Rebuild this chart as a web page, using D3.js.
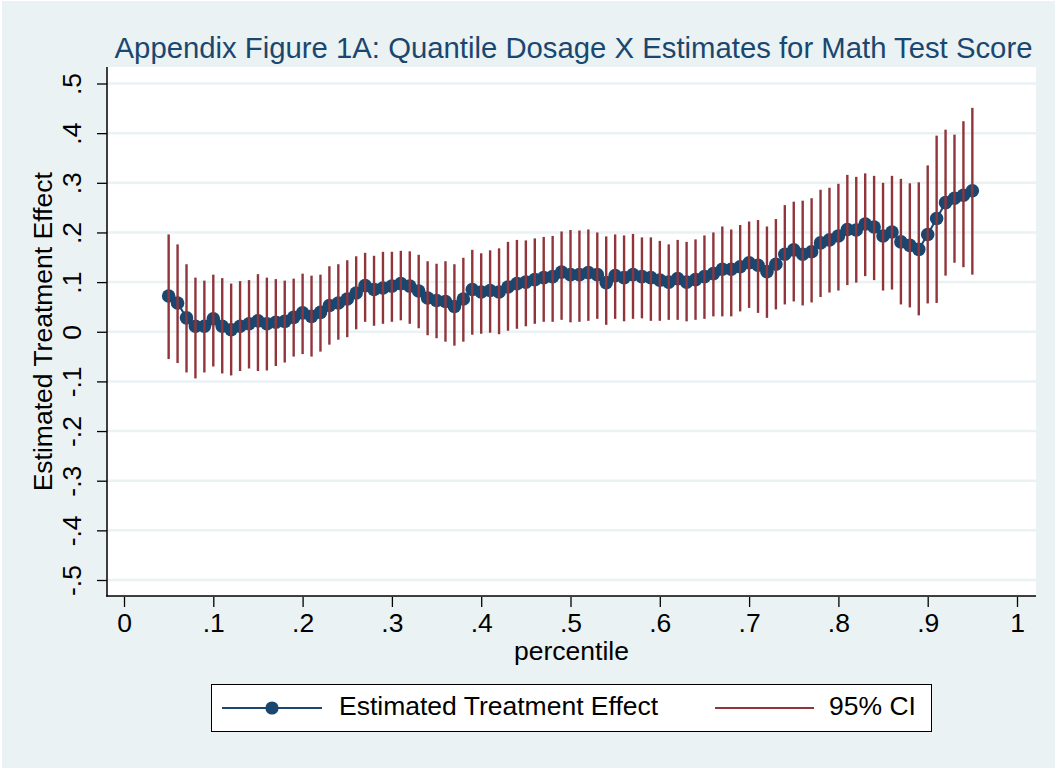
<!DOCTYPE html>
<html>
<head>
<meta charset="utf-8">
<script src="https://cdn.jsdelivr.net/npm/d3@7/dist/d3.min.js"></script>
<style>
  html, body { margin: 0; padding: 0; background: #ffffff; }
  svg { display: block; }
  text { font-family: "Liberation Sans", Arial, sans-serif; }
</style>
</head>
<body>
<svg id="chart" width="1055" height="768"></svg>
<script>
// ---------- DATA ----------
const percentile = [0.05,0.06,0.07,0.08,0.09,0.10,0.11,0.12,0.13,0.14,0.15,0.16,0.17,0.18,0.19,0.20,
  0.21,0.22,0.23,0.24,0.25,0.26,0.27,0.28,0.29,0.30,0.31,0.32,0.33,0.34,0.35,0.36,0.37,0.38,0.39,0.40,
  0.41,0.42,0.43,0.44,0.45,0.46,0.47,0.48,0.49,0.50,0.51,0.52,0.53,0.54,0.55,0.56,0.57,0.58,0.59,0.60,
  0.61,0.62,0.63,0.64,0.65,0.66,0.67,0.68,0.69,0.70,0.71,0.72,0.73,0.74,0.75,0.76,0.77,0.78,0.79,0.80,
  0.81,0.82,0.83,0.84,0.85,0.86,0.87,0.88,0.89,0.90,0.91,0.92,0.93,0.94,0.95];

const estimate = [0.072,0.058,0.028,0.011,0.011,0.026,0.011,0.004,0.011,0.016,0.022,0.016,0.019,0.021,0.029,0.038,
  0.031,0.039,0.053,0.058,0.066,0.078,0.093,0.085,0.088,0.092,0.097,0.092,0.082,0.068,0.063,0.061,0.051,0.066,0.085,0.080,
  0.083,0.080,0.090,0.097,0.100,0.105,0.109,0.111,0.120,0.115,0.115,0.119,0.115,0.099,0.113,0.109,0.115,0.111,0.109,0.104,
  0.100,0.107,0.100,0.105,0.111,0.117,0.126,0.126,0.131,0.139,0.134,0.121,0.136,0.156,0.165,0.156,0.161,0.179,0.185,0.193,
  0.206,0.205,0.217,0.211,0.193,0.201,0.181,0.174,0.166,0.196,0.228,0.260,0.269,0.275,0.284];

const ciLow = [-0.055,-0.063,-0.082,-0.094,-0.082,-0.070,-0.084,-0.088,-0.079,-0.074,-0.079,-0.078,-0.069,-0.062,-0.050,-0.045,
  -0.050,-0.040,-0.026,-0.016,-0.011,0.005,0.020,0.012,0.016,0.020,0.023,0.016,0.007,-0.007,-0.013,-0.020,-0.028,-0.020,-0.006,-0.004,
  -0.002,-0.005,0.002,0.006,0.011,0.016,0.020,0.020,0.024,0.019,0.020,0.022,0.026,0.014,0.026,0.021,0.026,0.027,0.022,0.022,
  0.024,0.024,0.021,0.024,0.026,0.031,0.031,0.031,0.041,0.048,0.038,0.028,0.045,0.055,0.061,0.053,0.059,0.070,0.079,0.083,
  0.094,0.099,0.112,0.104,0.083,0.085,0.055,0.049,0.033,0.057,0.058,0.113,0.139,0.130,0.115];

const ciHigh = [0.196,0.176,0.136,0.109,0.103,0.115,0.108,0.097,0.102,0.104,0.116,0.109,0.106,0.103,0.107,0.117,
  0.113,0.115,0.132,0.136,0.144,0.152,0.159,0.153,0.161,0.161,0.163,0.162,0.155,0.142,0.137,0.142,0.136,0.149,0.165,0.158,
  0.164,0.168,0.181,0.185,0.184,0.188,0.191,0.193,0.202,0.205,0.204,0.206,0.200,0.192,0.196,0.194,0.197,0.190,0.190,0.183,
  0.176,0.185,0.181,0.186,0.194,0.200,0.212,0.206,0.215,0.222,0.225,0.212,0.227,0.255,0.262,0.264,0.269,0.286,0.290,0.298,
  0.316,0.312,0.319,0.314,0.300,0.314,0.308,0.299,0.301,0.335,0.395,0.407,0.397,0.424,0.451];

const xTicks = [0,0.1,0.2,0.3,0.4,0.5,0.6,0.7,0.8,0.9,1];
const xTickLabels = ["0",".1",".2",".3",".4",".5",".6",".7",".8",".9","1"];
const yTicks = [-0.5,-0.4,-0.3,-0.2,-0.1,0,0.1,0.2,0.3,0.4,0.5];
const yTickLabels = ["-.5","-.4","-.3","-.2","-.1","0",".1",".2",".3",".4",".5"];

const titleText = "Appendix Figure 1A: Quantile Dosage X Estimates for Math Test Score";
const xTitle = "percentile";
const yTitle = "Estimated Treatment Effect";
const legendLabels = ["Estimated Treatment Effect", "95% CI"];

// ---------- LAYOUT ----------
const W = 1055, H = 768;
const plot = { left: 107, right: 1036, top: 67, bottom: 596 };
const navy = "#1a476f", maroon = "#90353b", bg = "#eaf2f3";
const fs = 26.5;

const svg = d3.select("#chart");

// outer background (thin white edge at top/left like the reference)
svg.append("rect").attr("x", 0).attr("y", 0).attr("width", W).attr("height", H).attr("fill", "#ffffff");
svg.append("rect").attr("x", 2).attr("y", 1).attr("width", W - 2).attr("height", H - 1).attr("fill", bg);

// plot region
svg.append("rect").attr("x", plot.left).attr("y", plot.top)
  .attr("width", plot.right - plot.left).attr("height", plot.bottom - plot.top).attr("fill", "#ffffff");

const x = d3.scaleLinear().domain([0, 1]).range([124, 1017]);
const y = d3.scaleLinear().domain([-0.5, 0.5]).range([580, 83.5]);

// gridlines
svg.append("g").selectAll("line").data(yTicks).join("line")
  .attr("x1", plot.left).attr("x2", plot.right)
  .attr("y1", d => y(d)).attr("y2", d => y(d))
  .attr("stroke", bg).attr("stroke-width", 2.5);

// connected line + markers
const pts = percentile.map((p, i) => ({ p, est: estimate[i], lo: ciLow[i], hi: ciHigh[i] }));
svg.append("path").datum(pts)
  .attr("d", d3.line().x(d => x(d.p)).y(d => y(d.est)))
  .attr("fill", "none").attr("stroke", navy).attr("stroke-width", 2);
svg.append("g").selectAll("circle").data(pts).join("circle")
  .attr("cx", d => x(d.p)).attr("cy", d => y(d.est)).attr("r", 6.8)
  .attr("fill", navy);

// CI spikes
svg.append("g").selectAll("line").data(pts).join("line")
  .attr("x1", d => x(d.p)).attr("x2", d => x(d.p))
  .attr("y1", d => y(d.lo)).attr("y2", d => y(d.hi))
  .attr("stroke", maroon).attr("stroke-width", 2.4);

// axes
const xAxis = d3.axisBottom(x).tickValues(xTicks).tickFormat((d, i) => xTickLabels[i])
  .tickSize(10).tickSizeOuter(0);
const gx = svg.append("g").attr("transform", `translate(0,${plot.bottom + 1})`).call(xAxis);
gx.select(".domain").remove();
gx.selectAll(".tick line").attr("stroke", "#000").attr("stroke-width", 1.3);
gx.selectAll(".tick text").attr("y", 35).attr("dy", null)
  .attr("font-size", fs).attr("fill", "#000")
  .style("font-family", '"Liberation Sans", Arial, sans-serif');

const yAxis = d3.axisLeft(y).tickValues(yTicks).tickFormat((d, i) => yTickLabels[i])
  .tickSize(10).tickSizeOuter(0);
const gy = svg.append("g").attr("transform", `translate(${plot.left},0)`).call(yAxis);
gy.select(".domain").remove();
gy.selectAll(".tick line").attr("stroke", "#000").attr("stroke-width", 1.3);
gy.selectAll(".tick text")
  .attr("x", null).attr("dy", null)
  .attr("transform", "translate(-26,0) rotate(-90)")
  .attr("text-anchor", "middle").attr("y", 0)
  .attr("font-size", fs).attr("fill", "#000")
  .style("font-family", '"Liberation Sans", Arial, sans-serif');

// axis lines
svg.append("line").attr("x1", plot.left).attr("x2", plot.left).attr("y1", plot.top).attr("y2", plot.bottom + 0.7)
  .attr("stroke", "#000").attr("stroke-width", 1.5);
svg.append("line").attr("x1", plot.left - 0.7).attr("x2", plot.right).attr("y1", plot.bottom).attr("y2", plot.bottom)
  .attr("stroke", "#000").attr("stroke-width", 1.5);

// titles
svg.append("text").attr("x", 573.5).attr("y", 58).attr("text-anchor", "middle")
  .attr("font-size", 29.3).attr("fill", navy).text(titleText);
svg.append("text").attr("x", 571.5).attr("y", 660).attr("text-anchor", "middle")
  .attr("font-size", fs).attr("fill", "#000").text(xTitle);
svg.append("text").attr("transform", `translate(52,${y(0)}) rotate(-90)`).attr("text-anchor", "middle")
  .attr("font-size", fs).attr("fill", "#000").text(yTitle);

// legend
const lg = svg.append("g");
lg.append("rect").attr("x", 211.5).attr("y", 684.5).attr("width", 720).attr("height", 47)
  .attr("fill", "#fff").attr("stroke", "#000").attr("stroke-width", 1);
lg.append("line").attr("x1", 222).attr("x2", 322).attr("y1", 708).attr("y2", 708)
  .attr("stroke", navy).attr("stroke-width", 2);
lg.append("circle").attr("cx", 272).attr("cy", 708).attr("r", 6.6).attr("fill", navy);
lg.append("text").attr("x", 339).attr("y", 714.5).attr("font-size", fs).attr("fill", "#000").text(legendLabels[0]);
lg.append("line").attr("x1", 715).attr("x2", 814).attr("y1", 708).attr("y2", 708)
  .attr("stroke", maroon).attr("stroke-width", 2);
lg.append("text").attr("x", 829).attr("y", 714.5).attr("font-size", fs).attr("fill", "#000").text(legendLabels[1]);
</script>
</body>
</html>
